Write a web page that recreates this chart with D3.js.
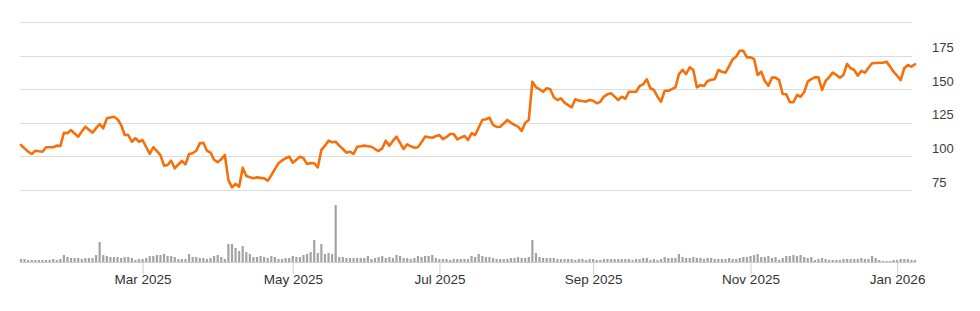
<!DOCTYPE html>
<html>
<head>
<meta charset="utf-8">
<script src="https://cdn.jsdelivr.net/npm/d3@7"></script>
<style>
  body { margin: 0; background: #fff; }
  #graph { width: 980px; height: 311px; }
  .grid line { stroke: #dcdcdc; stroke-width: 1; }
  .ylabel { font-family: "Liberation Sans", Arial, sans-serif; font-size: 13px; fill: #3c3c3c; }
  .xlabel { font-family: "Liberation Sans", Arial, sans-serif; font-size: 13.5px; fill: #333; }
</style>
</head>
<body>
<div id="graph"></div>
<script>
// trading calendar: first session and last session of the chart, plus market holidays
var startDay = "2025-01-10";
var endDay = "2026-01-09";
var holidays = ["2025-01-20", "2025-02-17", "2025-04-18", "2025-05-26", "2025-06-19",
                "2025-07-04", "2025-09-01", "2025-11-27", "2025-12-25", "2026-01-01"];

// closing prices, one per session
var closes = [
  108.5, 106, 103.5, 101.8, 104.2, 103.8, 103.5, 106.8, 106.8, 106.8,
  108, 107.7, 117.6, 117.2, 119.6, 117, 114.7, 118.5, 122.1, 119.8,
  117.6, 121, 124.1, 120.9, 128.3, 129, 129.5, 127.6, 123.4, 115.9,
  115.9, 110.9, 113.5, 110.9, 112.2, 107, 101.8, 106.8, 104, 101,
  93.1, 93.6, 96.8, 91.1, 94, 96.6, 94.1, 101.8, 102.3, 104.2,
  109.7, 110.2, 104.2, 102.8, 97.5, 95.6, 97.8, 101, 82.4, 77,
  79.5, 77.5, 91.6, 85.4, 84.5, 83.7, 84.4, 84, 83.7, 81.9,
  86, 90.5, 94.9, 97, 98.6, 99.8, 95.3, 97.5, 99.8, 98.6,
  94.3, 95, 94.9, 91.9, 104.8, 108, 111.7, 110.5, 110.9, 108,
  105.5, 102.8, 103.5, 101.8, 107.2, 107.5, 108, 107.6, 107.2, 105.5,
  104, 106, 111.7, 108, 111.5, 114.7, 110, 105.5, 109, 107.5,
  106.5, 106.8, 110.5, 114.7, 114.3, 113.9, 115, 115.9, 112.9, 114.5,
  116.7, 116.7, 112.7, 114, 115.2, 112.2, 117.2, 115.9, 121.5, 127.1,
  127.6, 128.8, 123.4, 121.9, 122.1, 124.5, 127.1, 125, 123.4, 122.1,
  118.9, 125.1, 127.1, 155.6, 151.4, 150, 148.1, 150.7, 149.9, 144,
  142, 143.2, 140, 138.2, 136.5, 142.5, 141.5, 141.2, 140.7, 142,
  141.4, 139.5, 140.7, 144.5, 146.2, 146.9, 144.5, 142, 144.4, 142.9,
  148.1, 148.1, 148.1, 152.4, 153.6, 157.4, 150.7, 149.4, 144.4, 140.7,
  148.9, 148.9, 150, 151.4, 161.3, 164.3, 161.3, 166.3, 164.3, 151.4,
  153.1, 152.4, 156.1, 157, 157.4, 164.3, 163, 162.3, 167, 172.2,
  174.2, 178.6, 178.6, 173.7, 173.7, 172.5, 160.6, 163, 156.1, 152.6,
  158.6, 158.6, 156.8, 146.4, 146.2, 140.3, 140.3, 145.7, 144.4, 147.7,
  155.6, 157.5, 158.8, 158.8, 149.4, 156.1, 159, 162.3, 160.6, 158.6,
  160.6, 168.8, 165.6, 164.3, 160.1, 163.6, 162.3, 166, 169.3, 169.5,
  169.7, 169.7, 170.5, 167, 163, 160, 156.8, 165.6, 168, 166.8,
  168.6
];

// traded volume per session, millions
var volumes = [
  3, 3, 2, 2, 2, 2, 2, 2, 2, 3,
  2, 3, 7, 5, 4, 4, 4, 3, 4, 4,
  4, 7, 20, 7, 6, 5, 5, 5, 4, 5,
  5, 4, 2, 3, 3, 4, 6, 6, 7, 7,
  8, 6, 6, 5, 3, 3, 3, 8, 5, 5,
  4, 4, 3, 4, 6, 7, 5, 3, 18, 18,
  14, 11, 16, 10, 8, 5, 5, 6, 5, 4,
  6, 5, 3, 3, 4, 4, 6, 5, 5, 7,
  8, 10, 22, 9, 18, 8, 9, 8, 57, 5,
  5, 4, 4, 4, 4, 4, 4, 6, 3, 4,
  5, 6, 4, 5, 4, 7, 6, 4, 4, 3,
  4, 6, 5, 6, 6, 7, 4, 3, 3, 3,
  2, 3, 3, 3, 3, 3, 6, 5, 8, 6,
  5, 5, 4, 3, 3, 3, 3, 4, 4, 5,
  4, 4, 5, 22, 9, 5, 4, 4, 4, 4,
  3, 3, 3, 3, 3, 2, 3, 3, 2, 3,
  3, 2, 2, 3, 3, 3, 3, 3, 3, 3,
  3, 2, 3, 3, 4, 4, 2, 3, 2, 3,
  5, 4, 4, 4, 8, 5, 4, 4, 5, 4,
  4, 3, 4, 4, 3, 3, 3, 3, 4, 3,
  3, 4, 5, 5, 6, 7, 8, 5, 5, 6,
  4, 5, 2, 4, 6, 6, 7, 6, 7, 5,
  4, 5, 2, 3, 4, 3, 2, 2, 2, 2,
  3, 3, 3, 3, 3, 4, 3, 3, 6, 4,
  2, 1, 1, 1, 2, 2, 3, 3, 3, 2,
  2
];

// y ticks on the price axis and months that get a label on the time axis
var priceTicks = [75, 100, 125, 150, 175, 200];
var tickMonths = ["2025-03", "2025-05", "2025-07", "2025-09", "2025-11", "2026-01"];
var tickLabels = ["Mar 2025", "May 2025", "Jul 2025", "Sep 2025", "Nov 2025", "Jan 2026"];

// build the list of trading sessions from the calendar
var parseDay = d3.timeParse("%Y-%m-%d");
var fmtDay = d3.timeFormat("%Y-%m-%d");
var fmtMonth = d3.timeFormat("%Y-%m");
var sessions = d3.timeDay.range(parseDay(startDay), d3.timeDay.offset(parseDay(endDay), 1))
    .filter(function (d) {
        var wd = d.getDay();
        return wd != 0 && wd != 6 && holidays.indexOf(fmtDay(d)) < 0;
    });

var data = sessions.map(function (d, i) {
    return {date: d, close: closes[i], volume: volumes[i]};
});

// first session of each labelled month
var tickIdx = tickMonths.map(function (m) {
    return sessions.findIndex(function (d) { return fmtMonth(d) == m; });
});

var width = 980,
    height = 311,
    plotLeft = 21,
    plotRight = 915,
    gridRight = 912;

var x = d3.scaleLinear()
        .domain([0, data.length - 1])
        .range([plotLeft, plotRight]);

var y = d3.scaleLinear()
        .domain([75, 200])
        .range([190, 22]);

var yVol = d3.scaleLinear()
        .domain([0, d3.max(volumes)])
        .range([262, 205]);

var svg = d3.select("#graph")
        .append("svg")
        .attr("width", width)
        .attr("height", height);

// horizontal grid lines with the labels sitting just above them
var grid = svg.append("g").attr("class", "grid");
grid.selectAll("line")
        .data(priceTicks)
        .enter()
        .append("line")
        .attr("x1", 20)
        .attr("x2", gridRight)
        .attr("y1", function (d) { return Math.round(y(d)) + 0.5; })
        .attr("y2", function (d) { return Math.round(y(d)) + 0.5; });

svg.append("g")
        .selectAll("text")
        .data(priceTicks.filter(function (d) { return d < 200; }))
        .enter()
        .append("text")
        .attr("class", "ylabel")
        .attr("x", 932)
        .attr("y", function (d) { return y(d) - 3.5; })
        .text(function (d) { return d; });

// volume bars
var barW = 2.2;
svg.append("g")
        .selectAll("rect")
        .data(data)
        .enter()
        .append("rect")
        .attr("x", function (d, i) { return x(i) - barW / 2; })
        .attr("y", function (d) { return yVol(d.volume); })
        .attr("width", barW)
        .attr("height", function (d) { return yVol(0) - yVol(d.volume); })
        .attr("fill", "#a3a3a3");

// time axis: base line, month ticks and labels
var xAxis = d3.axisBottom(x)
        .tickValues(tickIdx)
        .tickSize(12)
        .tickFormat(function (d, i) { return tickLabels[i]; });

var axisG = svg.append("g")
        .attr("transform", "translate(0," + 262.5 + ")")
        .call(xAxis);

axisG.select(".domain")
        .attr("d", "M20,0H916")
        .attr("stroke", "#cfcfcf");
axisG.selectAll(".tick line").attr("stroke", "#cfcfcf");
axisG.selectAll(".tick text")
        .attr("class", "xlabel")
        .attr("y", 17)
        .attr("dy", "0.32em");

// price line
var line = d3.line()
        .x(function (d, i) { return x(i); })
        .y(function (d) { return y(d.close); });

svg.append("path")
        .datum(data)
        .attr("fill", "none")
        .attr("stroke", "#f5700a")
        .attr("stroke-width", 2.6)
        .attr("stroke-linejoin", "round")
        .attr("stroke-linecap", "round")
        .attr("d", line);
</script>
</body>
</html>
